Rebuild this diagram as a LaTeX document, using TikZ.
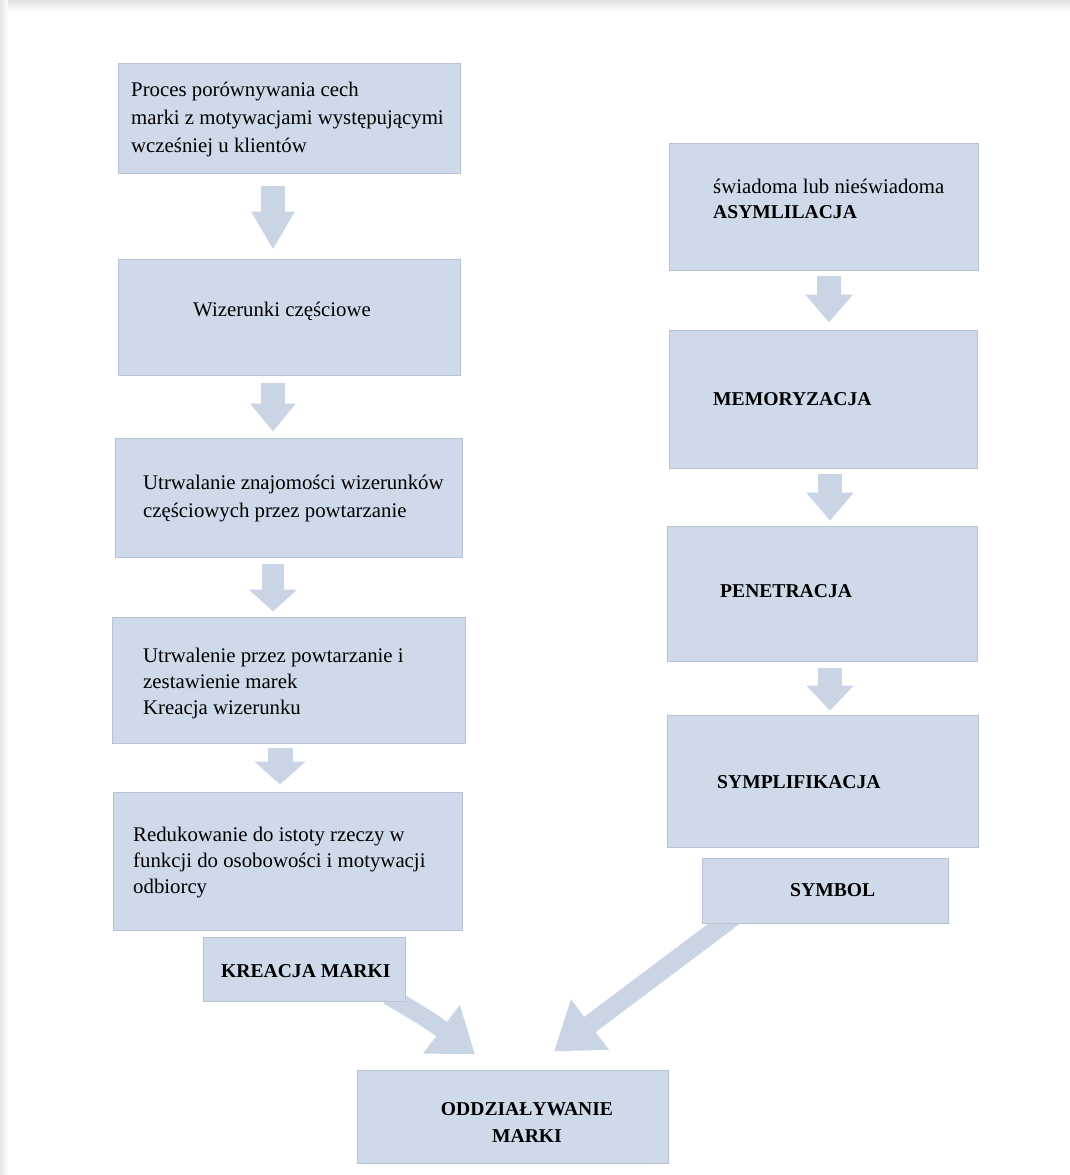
\documentclass[tikz,border=0pt]{standalone}
\usepackage{fontspec}
\setmainfont{Liberation Serif}
\usetikzlibrary{arrows.meta,calc}
\definecolor{boxfill}{RGB}{206,217,233}
\definecolor{boxline}{RGB}{184,194,210}
\definecolor{arrfill}{RGB}{201,212,229}
\pgfdeclarelayer{back}
\pgfdeclarelayer{bg}
\pgfsetlayers{back,bg,main}
\tikzset{
  box/.style={draw=boxline, line width=1pt, fill=boxfill, inner sep=0pt},
  txt/.style={inner sep=0pt, anchor=base west, font=\fontsize{20.8}{27}\selectfont},
  btxt/.style={inner sep=0pt, anchor=base west, font=\fontsize{19.6}{27}\selectfont\bfseries},
  blockarr/.style={draw=arrfill, line cap=butt},
}
\begin{document}
\begin{tikzpicture}[x=1pt,y=-1pt]
\useasboundingbox (0,0) rectangle (1070,1175);
\begin{pgfonlayer}{back}
\fill[white] (0,0) rectangle (1070,1175);
\shade[top color=black!12, bottom color=white] (0,0) rectangle (1070,12);
\shade[left color=black!10, right color=white] (0,0) rectangle (8,1175);
\end{pgfonlayer}

% left column boxes
\node[box, minimum width=342pt, minimum height=110pt] (b1) at (289,118) {};
\node[box, minimum width=342pt, minimum height=116pt] (b2) at (289,317) {};
\node[box, minimum width=347pt, minimum height=119pt] (b3) at (288.5,497.5) {};
\node[box, minimum width=353pt, minimum height=126pt] (b4) at (288.5,680) {};
\node[box, minimum width=349pt, minimum height=138pt] (b5) at (287.5,861) {};
\node[box, minimum width=202pt, minimum height=64pt] (km) at (304,969) {};
\node[box, minimum width=311pt, minimum height=93pt] (od) at (512.5,1116.5) {};
% right column boxes
\node[box, minimum width=309pt, minimum height=127pt] (r1) at (823.5,206.5) {};
\node[box, minimum width=308pt, minimum height=138pt] (r2) at (823,399) {};
\node[box, minimum width=310pt, minimum height=135pt] (r3) at (822,593.5) {};
\node[box, minimum width=311pt, minimum height=132pt] (r4) at (822.5,781) {};
\node[box, minimum width=246pt, minimum height=65pt] (sy) at (825,890.5) {};

% texts
\node[txt] (t1) at (131,96) {\fontsize{20.8}{28}\selectfont\vtop{\hbox{Proces porównywania cech}\hbox{marki z motywacjami występującymi}\hbox{wcześniej u klientów}}};
\node[txt] (t2) at (193,316) {Wizerunki częściowe};
\node[txt] (t3) at (143,489) {\fontsize{20.8}{28}\selectfont\vtop{\hbox{Utrwalanie znajomości wizerunków}\hbox{częściowych przez powtarzanie}}};
\node[txt] (t4) at (143,662) {\fontsize{20.8}{26}\selectfont\vtop{\hbox{Utrwalenie przez powtarzanie i}\hbox{zestawienie marek}\hbox{Kreacja wizerunku}}};
\node[txt] (t5) at (133,841) {\fontsize{20.8}{26}\selectfont\vtop{\hbox{Redukowanie do istoty rzeczy w}\hbox{funkcji do osobowości i motywacji}\hbox{odbiorcy}}};
\node[btxt] (tkm) at (221,977) {KREACJA MARKI};
\node[btxt, anchor=base] (tod) at (527,1115) {\fontsize{19.6}{27}\selectfont\vtop{\halign{\hfil#\hfil\cr ODDZIAŁYWANIE\cr MARKI\cr}}};
\node[txt] (tr1) at (713,193) {\fontsize{20.8}{25}\selectfont\vtop{\hbox{świadoma lub nieświadoma}\hbox{\fontsize{19.6}{25}\selectfont\bfseries ASYMLILACJA}}};
\node[btxt] (tr2) at (713,405) {MEMORYZACJA};
\node[btxt] (tr3) at (720,597) {PENETRACJA};
\node[btxt] (tr4) at (717,788) {SYMPLIFIKACJA};
\node[btxt] (tsy) at (790,896) {SYMBOL};

% arrows
\begin{pgfonlayer}{bg}
\draw[blockarr, line width=24pt, shorten <=12pt, shorten >=9pt, -{Triangle[length=38pt,width=41pt]}]
  ([xshift=-16pt]b1.south) -- ([xshift=-16pt]b2.north);
\draw[blockarr, line width=24pt, shorten <=7pt, shorten >=6pt, -{Triangle[length=28pt,width=44pt]}]
  ([xshift=-16pt]b2.south) -- ([xshift=-15.5pt]b3.north);
\draw[blockarr, line width=22pt, shorten <=6pt, shorten >=5pt, -{Triangle[length=22pt,width=47pt]}]
  ([xshift=-15.5pt]b3.south) -- ([xshift=-15.5pt]b4.north);
\draw[blockarr, line width=25pt, shorten <=4pt, shorten >=7pt, -{Triangle[length=23pt,width=50pt]}]
  ([xshift=-8.5pt]b4.south) -- ([xshift=-7.5pt]b5.north);
\draw[blockarr, line width=24pt, shorten <=5pt, shorten >=7pt, -{Triangle[length=28pt,width=46pt]}]
  ([xshift=5.5pt]r1.south) -- ([xshift=6pt]r2.north);
\draw[blockarr, line width=24pt, shorten <=5pt, shorten >=5pt, -{Triangle[length=28pt,width=46pt]}]
  ([xshift=7pt]r2.south) -- ([xshift=8pt]r3.north);
\draw[blockarr, line width=24pt, shorten <=6pt, shorten >=4pt, -{Triangle[length=25pt,width=46pt]}]
  ([xshift=8pt]r3.south) -- ([xshift=7.5pt]r4.north);
% diagonal arrows
\draw[blockarr, line width=18pt, -{Triangle[length=42pt,width=58pt]}]
  ($(km.south)+(84,-6)$) .. controls ($(km.south)+(126,19)$) .. ($(od.north)+(-37.5,-15)$);
\draw[blockarr, line width=19pt, -{Triangle[length=45pt,width=60pt]}]
  ($(sy.south)+(-90,-8)$) -- ($(od.north)+(41.5,-18)$);
\end{pgfonlayer}
\end{tikzpicture}
\end{document}
